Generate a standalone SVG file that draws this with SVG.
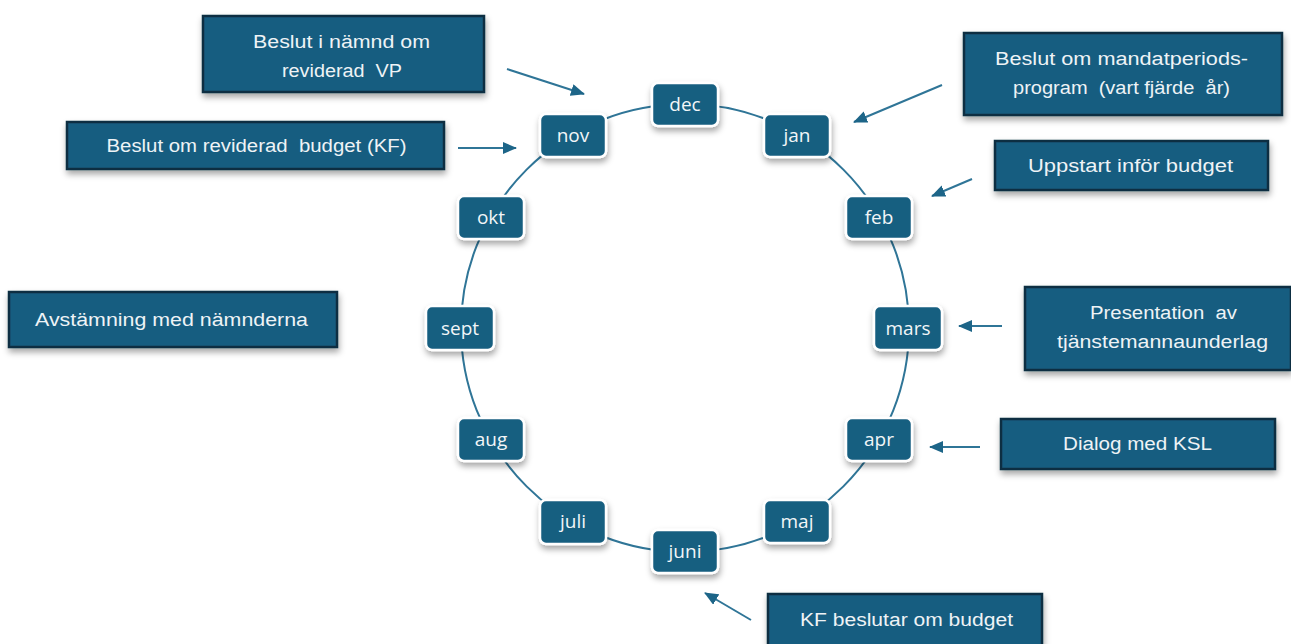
<svg xmlns="http://www.w3.org/2000/svg" width="1291" height="644" viewBox="0 0 1291 644">
  <style>
    .month rect { fill: #175e80; stroke: #ffffff; stroke-width: 2.5; filter: url(#shadow); }
    .month text { fill: #f2f6f8; font-family: "Open Sans", "Liberation Sans", sans-serif; font-size: 19px; text-anchor: middle; }
    .label rect { fill: #175d80; stroke: #0f2f42; stroke-width: 2.5; filter: url(#shadow); }
    .label text { fill: #eef3f6; font-family: "Liberation Sans", Arial, sans-serif; font-size: 18px; text-anchor: middle; white-space: pre; }
    .ring { fill: none; stroke: #2f7597; stroke-width: 2; }
    .arrow { fill: none; stroke: #2f7597; stroke-width: 2; marker-end: url(#head); }
  </style>
  <defs>
    <filter id="shadow" x="-20%" y="-20%" width="140%" height="160%">
      <feDropShadow dx="1" dy="4" stdDeviation="3" flood-color="#000000" flood-opacity="0.35"/>
    </filter>
    <marker id="head" viewBox="0 0 14 12" refX="13" refY="6" markerWidth="14" markerHeight="12" markerUnits="userSpaceOnUse" orient="auto">
      <path d="M0,0 L14,6 L0,12 Z" fill="#1d6588"/>
    </marker>
  </defs>

  <rect width="1291" height="644" fill="#ffffff"/>

  <!-- yearly cycle ring and arrows -->
  <g id="connectors">
    <circle class="ring" cx="685" cy="328" r="224"/>
    <line class="arrow" x1="507" y1="69" x2="584" y2="94"/>
    <line class="arrow" x1="458" y1="148" x2="516" y2="148"/>
    <line class="arrow" x1="942" y1="85" x2="854" y2="122"/>
    <line class="arrow" x1="972" y1="179" x2="932" y2="196"/>
    <line class="arrow" x1="1002" y1="326" x2="959" y2="326"/>
    <line class="arrow" x1="980" y1="447" x2="930" y2="447"/>
    <line class="arrow" x1="751" y1="620" x2="705" y2="593"/>
  </g>

  <!-- months -->
  <g id="m-dec" class="month"><rect x="652" y="83" width="66" height="43" rx="6"/><text x="685" y="111">dec</text></g>
  <g id="m-jan" class="month"><rect x="764" y="114" width="66" height="43" rx="6"/><text x="797" y="142">jan</text></g>
  <g id="m-feb" class="month"><rect x="846" y="196" width="66" height="43" rx="6"/><text x="879" y="224">feb</text></g>
  <g id="m-mars" class="month"><rect x="874" y="306" width="68" height="44" rx="6"/><text x="908" y="335">mars</text></g>
  <g id="m-apr" class="month"><rect x="846" y="418" width="66" height="43" rx="6"/><text x="879" y="446">apr</text></g>
  <g id="m-maj" class="month"><rect x="764" y="500" width="66" height="43" rx="6"/><text x="797" y="528">maj</text></g>
  <g id="m-juni" class="month"><rect x="652" y="530" width="66" height="43" rx="6"/><text x="685" y="558">juni</text></g>
  <g id="m-juli" class="month"><rect x="540" y="500" width="66" height="44" rx="6"/><text x="573" y="528">juli</text></g>
  <g id="m-aug" class="month"><rect x="458" y="418" width="66" height="43" rx="6"/><text x="491" y="446">aug</text></g>
  <g id="m-sept" class="month"><rect x="426" y="306" width="68" height="44" rx="6"/><text x="460" y="335">sept</text></g>
  <g id="m-okt" class="month"><rect x="458" y="196" width="66" height="43" rx="6"/><text x="491" y="224">okt</text></g>
  <g id="m-nov" class="month"><rect x="540" y="114" width="66" height="43" rx="6"/><text x="573" y="142">nov</text></g>

  <!-- events -->
  <g id="l-vp" class="label">
    <rect x="203" y="16" width="281" height="76"/>
    <text x="341.5" y="48" textLength="177" lengthAdjust="spacingAndGlyphs">Beslut i nämnd om</text>
    <text x="342" y="77" textLength="120" lengthAdjust="spacingAndGlyphs">reviderad  VP</text>
  </g>
  <g id="l-revbudget" class="label">
    <rect x="67" y="122" width="377" height="47"/>
    <text x="256.5" y="152" textLength="300" lengthAdjust="spacingAndGlyphs">Beslut om reviderad  budget (KF)</text>
  </g>
  <g id="l-mandat" class="label">
    <rect x="964" y="33" width="318" height="82"/>
    <text x="1121.5" y="65" textLength="253" lengthAdjust="spacingAndGlyphs">Beslut om mandatperiods-</text>
    <text x="1121.5" y="94" textLength="217" lengthAdjust="spacingAndGlyphs">program  (vart fjärde  år)</text>
  </g>
  <g id="l-uppstart" class="label">
    <rect x="995" y="141" width="273" height="49"/>
    <text x="1130.5" y="172" textLength="205" lengthAdjust="spacingAndGlyphs">Uppstart inför budget</text>
  </g>
  <g id="l-avstamning" class="label">
    <rect x="9" y="292" width="328" height="55"/>
    <text x="171.5" y="326" textLength="273" lengthAdjust="spacingAndGlyphs">Avstämning med nämnderna</text>
  </g>
  <g id="l-presentation" class="label">
    <rect x="1025" y="287" width="266" height="83"/>
    <text x="1163.5" y="319" textLength="147" lengthAdjust="spacingAndGlyphs">Presentation  av</text>
    <text x="1162.5" y="348" textLength="211" lengthAdjust="spacingAndGlyphs">tjänstemannaunderlag</text>
  </g>
  <g id="l-ksl" class="label">
    <rect x="1001" y="419" width="274" height="50"/>
    <text x="1137.5" y="450" textLength="149" lengthAdjust="spacingAndGlyphs">Dialog med KSL</text>
  </g>
  <g id="l-kf" class="label">
    <rect x="768" y="594" width="274" height="52"/>
    <text x="906.5" y="626" textLength="213" lengthAdjust="spacingAndGlyphs">KF beslutar om budget</text>
  </g>
</svg>
